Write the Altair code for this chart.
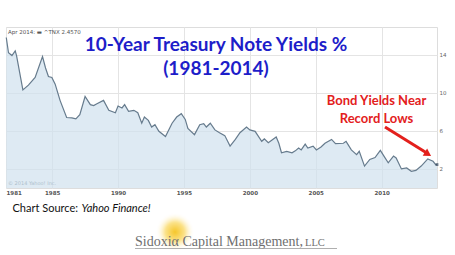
import altair as alt
import pandas as pd

years = [1981.52, 1981.69, 1981.95, 1982.2, 1982.3, 1982.78, 1983.2, 1983.71, 1984.27, 1984.5,
         1984.72, 1984.98, 1985.23, 1985.6, 1986.1, 1986.5, 1986.8, 1987.1, 1987.5, 1987.9,
         1988.15, 1988.4, 1988.9, 1989.3, 1989.8, 1990.0, 1990.3, 1990.5, 1990.8, 1991.2,
         1991.5, 1991.8, 1992.0, 1992.3, 1992.55, 1992.8, 1993.1, 1993.6, 1994.1, 1994.45,
         1994.8, 1995.1, 1995.3, 1995.8, 1996.2, 1996.5, 1996.7, 1997.0, 1997.35, 1997.7,
         1998.1, 1998.5, 1998.9, 1999.25, 1999.75, 2000.0, 2000.4, 2000.9, 2001.1, 2001.4,
         2002.0, 2002.2, 2002.4, 2002.8, 2003.2, 2003.45, 2003.7, 2003.9, 2004.2, 2004.4,
         2004.8, 2005.05, 2005.4, 2005.7, 2006.2, 2006.5, 2007.1, 2007.3, 2007.7, 2008.1,
         2008.3, 2008.7, 2009.1, 2009.5, 2009.9, 2010.2, 2010.5, 2010.9, 2011.1, 2011.5,
         2011.9, 2012.25, 2012.6, 2013.0, 2013.5, 2013.9, 2014.1, 2014.2]
yields = [15.8, 14.2, 13.9, 14.4, 13.9, 10.3, 10.8, 11.6, 13.8, 12.6,
          11.7, 11.6, 10.9, 9.2, 7.4, 7.36, 7.25, 7.7, 9.6, 8.75,
          8.65, 8.85, 9.2, 8.15, 7.9, 8.6, 8.4, 8.75, 8.05, 8.15,
          7.9, 6.8, 7.45, 7.1, 6.4, 6.65, 5.95, 5.4, 6.8, 7.45,
          7.8, 7.2, 6.25, 5.6, 6.65, 6.75, 6.4, 6.8, 6.1, 5.8,
          5.5, 4.4, 5.1, 5.8, 6.4, 6.1, 5.95, 4.9, 5.15, 4.75,
          5.35, 4.7, 3.7, 3.85, 3.7, 3.9, 4.2, 4.0, 4.6, 4.2,
          4.4, 4.0, 4.3, 4.7, 5.1, 4.65, 4.7, 4.9, 4.0, 3.5,
          3.85, 2.3, 3.0, 3.2, 3.95, 3.3, 2.65, 3.35, 3.15, 2.0,
          2.1, 1.75, 1.85, 2.3, 3.05, 2.8, 2.45, 2.46]

x_ticks = [1981.5, 1985, 1990, 1995, 2000, 2005, 2010]
y_ticks = [2, 4, 6, 8, 10, 12, 14]

title1 = "10-Year Treasury Note Yields %"
title2 = "(1981-2014)"
note1 = "Bond Yields Near"
note2 = "Record Lows"
quote_text = "Apr 2014:  \u25ac ^TNX 2.4570"
copyright_text = "\u00a9 2014 Yahoo! Inc."
source_label = "Chart Source:"
source_name = "Yahoo Finance!"
brand = "Sidoxi\u03b1 Capital Management,"
brand_suffix = "LLC"

df = pd.DataFrame({"year": years, "yield": yields})

W, H = 431, 161

xs = alt.Scale(domain=[1981.5, 2014.2], nice=False, zero=False)
ys = alt.Scale(domain=[0, 16.9], nice=False)

base = alt.Chart(df)

area = base.mark_area(color="#d0e1ee", line={"color": "#667b8d", "strokeWidth": 1.2}).encode(
    x=alt.X("year:Q", scale=xs,
            axis=alt.Axis(values=x_ticks, grid=True, gridColor="#e4e4e4", domain=False, ticks=False,
                          labelExpr="datum.value < 1982 ? '1981' : format(datum.value, 'd')",
                          labelFlush=True, labelFontSize=5.5, labelColor="#555555",
                          labelFont="DejaVu Sans", labelFontWeight="bold", labelPadding=2, title=None)),
    y=alt.Y("yield:Q", scale=ys,
            axis=alt.Axis(orient="right", values=y_ticks, grid=True, gridColor="#e4e4e4", domain=False,
                          ticks=False, labelFontSize=5.5, labelColor="#666666", labelFont="DejaVu Sans",
                          labelPadding=2, labelAlign="left", title=None)),
)

last = alt.Chart(df.tail(1)).mark_point(shape="square", size=8, filled=True, color="#34495e").encode(
    x=alt.X("year:Q", scale=xs), y=alt.Y("yield:Q", scale=ys))


def txt(text, x, y, **kw):
    return alt.Chart(alt.Data(values=[{"a": 1}])).mark_text(text=text, **kw).encode(
        x=alt.value(x), y=alt.value(y))


one = alt.Data(values=[{"a": 1}])

glow = alt.Chart(one).mark_circle(
    size=1500, opacity=1,
    fill=alt.RadialGradient(gradient="radial",
                            stops=[alt.GradientStop(offset=0, color="#f6c62a"),
                                   alt.GradientStop(offset=0.5, color="#fbe28a"),
                                   alt.GradientStop(offset=1, color="rgba(255,255,255,0)")]),
).encode(x=alt.value(169), y=alt.value(205))

arrow_line = alt.Chart(one).mark_rule(color="#e3201c", strokeWidth=3).encode(
    x=alt.value(379), y=alt.value(100), x2=alt.value(420), y2=alt.value(125.5))
arrow_head = alt.Chart(one).mark_point(shape="triangle-right", size=70, filled=True, color="#e3201c",
                                       opacity=1, angle=31.7).encode(
    x=alt.value(422), y=alt.value(127))

underline = alt.Chart(one).mark_rule(color="#9a9a9a", strokeWidth=0.8).encode(
    x=alt.value(129), x2=alt.value(331), y=alt.value(221.5))

layers = [
    area, last,
    txt(quote_text, 2, 5, fontSize=5.5, color="#555555", align="left", baseline="middle", font="DejaVu Sans"),
    txt(copyright_text, 2, 156, fontSize=5, color="#aebfcc", align="left", baseline="middle", font="DejaVu Sans"),
    txt(title1, 210, 23.5, fontSize=19, fontWeight="bold", color="#1d1dc9", align="center",
        baseline="alphabetic", font="Lato"),
    txt(title2, 210, 48, fontSize=19, fontWeight="bold", color="#1d1dc9", align="center",
        baseline="alphabetic", font="Lato"),
    txt(note1, 370.5, 77.5, fontSize=13, fontWeight="bold", color="#e3201c", align="center",
        baseline="alphabetic", font="Lato"),
    txt(note2, 370.5, 95.5, fontSize=13, fontWeight="bold", color="#e3201c", align="center",
        baseline="alphabetic", font="Lato"),
    arrow_line, arrow_head,
    txt(source_label, 6.5, 184.5, fontSize=11, color="#111111", align="left", baseline="alphabetic",
        font="Lato"),
    txt(source_name, 75.5, 184.5, fontSize=11, color="#111111", align="left", baseline="alphabetic",
        font="Lato", fontStyle="italic"),
    glow,
    txt(brand, 129, 218.7, fontSize=14, color="#6f6f6f", align="left", baseline="alphabetic",
        font="Liberation Serif"),
    txt(brand_suffix, 299, 218.7, fontSize=10.5, color="#6f6f6f", align="left", baseline="alphabetic",
        font="Liberation Serif"),
    underline,
]

chart = alt.layer(*layers).properties(
    width=W, height=H,
    autosize=alt.AutoSizeParams(type="none"),
    padding={"left": 6, "top": 27, "right": 18, "bottom": 67},
    background="white",
).configure_view(stroke="#dddddd", strokeWidth=1)

chart.save("out.html", embed_options={"renderer": "svg", "actions": False})
